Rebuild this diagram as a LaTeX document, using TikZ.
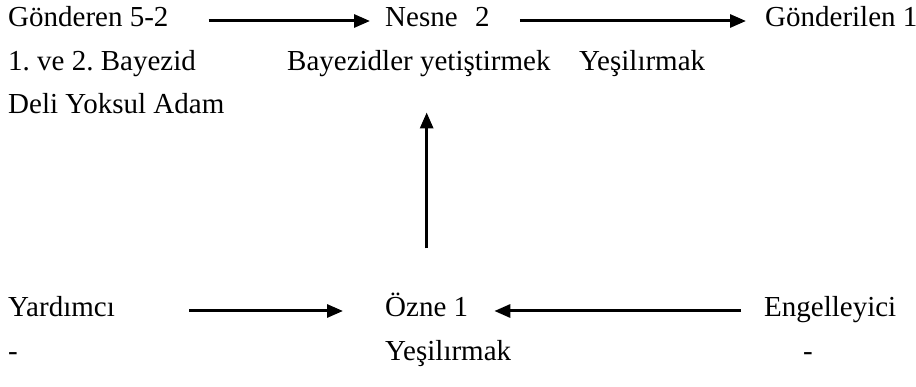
\documentclass[tikz,border=0pt]{standalone}
\usepackage{fontspec}
\setmainfont{Liberation Serif}
\usetikzlibrary{arrows.meta}
\frenchspacing
\tikzset{
  lbl/.style={anchor=base west, inner sep=0pt},
  arr/.style={-{Triangle[length=16pt,width=13pt]}, line width=3pt},
}
\begin{document}
\begin{tikzpicture}[x=1pt, y=-1pt, font=\fontsize{29}{33}\selectfont]
    \useasboundingbox (0,0) rectangle (916,387);
    % upper row: sender, object, receiver
    \node (gnd) [lbl] at (8,27) {Gönderen 5-2};
    \node (nsn) [lbl] at (385,27) {Nesne\hspace{0.6em}2};
    \node (alc) [lbl] at (765,27) {Gönderilen 1};
    \node (byz) [lbl] at (8,71) {1. ve 2. Bayezid};
    \node (yts) [lbl] at (287,71) {Bayezidler yetiştirmek};
    \node (ysl) [lbl] at (579,71) {Yeşilırmak};
    \node (dly) [lbl] at (8,114) {Deli Yoksul Adam};
    % lower row: helper, subject, opponent
    \node (yrd) [lbl] at (8,317) {Yardımcı};
    \node (ozn) [lbl] at (385,317) {Özne 1};
    \node (eng) [lbl] at (764,317) {Engelleyici};
    \node (yrdx) [lbl] at (8,361) {-};
    \node (oznx) [lbl] at (385,361) {Yeşilırmak};
    \node (engx) [lbl] at (803,361) {-};
    \draw[arr, shorten <=40pt, shorten >=15pt] ([yshift=6pt]gnd.base east) -- ([yshift=6pt]nsn.base west);
    \draw[arr, shorten <=30pt, shorten >=19pt] ([yshift=6pt]nsn.base east) -- ([yshift=6pt]alc.base west);
    \draw[arr, shorten <=74pt, shorten >=42pt] ([yshift=6pt]yrd.base east) -- ([yshift=6pt]ozn.base west);
    \draw[arr, shorten <=23pt, shorten >=26pt] ([yshift=6pt]eng.base west) -- ([yshift=6pt]ozn.base east);
    \draw[arr, shorten <=45pt, shorten >=35pt] (ozn.north) -- (ozn.north |- yts.south);
\end{tikzpicture}
\end{document}
